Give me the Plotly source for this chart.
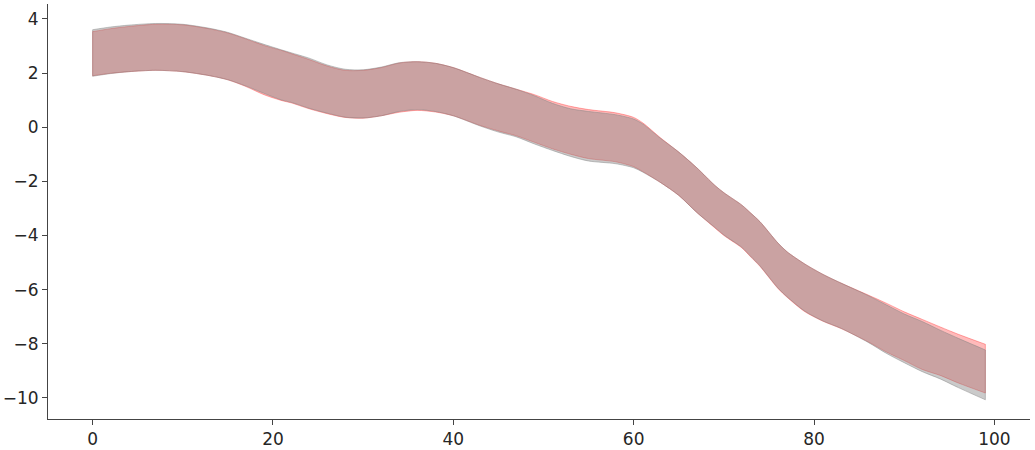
import plotly.graph_objects as go

x = [0, 2, 4, 7, 10, 13, 15, 17, 19, 21, 22, 24, 26, 28, 30, 32, 34, 36, 38, 40,
     43, 45, 47, 49, 51, 53, 55, 58, 60, 61, 63, 65, 67, 69, 70, 72, 73, 74, 76, 77,
     79, 81, 83, 86, 88, 90, 92, 94, 96, 99]

gray_upper = [3.60, 3.70, 3.77, 3.83, 3.80, 3.65, 3.50, 3.28, 3.06, 2.85, 2.75, 2.55, 2.30, 2.14, 2.12, 2.22, 2.38, 2.42, 2.36, 2.20,
              1.83, 1.60, 1.40, 1.16, 0.88, 0.68, 0.58, 0.46, 0.30, 0.12, -0.42, -0.92, -1.50, -2.15, -2.42, -2.88, -3.18, -3.49, -4.28, -4.60,
              -5.06, -5.44, -5.76, -6.22, -6.56, -6.90, -7.18, -7.50, -7.80, -8.23]
gray_lower = [1.88, 1.98, 2.05, 2.10, 2.05, 1.90, 1.75, 1.52, 1.25, 1.00, 0.92, 0.70, 0.52, 0.37, 0.34, 0.42, 0.58, 0.65, 0.58, 0.42,
              0.04, -0.18, -0.36, -0.62, -0.86, -1.08, -1.25, -1.35, -1.50, -1.66, -2.05, -2.52, -3.15, -3.70, -3.98, -4.44, -4.78, -5.12, -5.94, -6.26,
              -6.80, -7.16, -7.43, -7.95, -8.35, -8.70, -9.03, -9.30, -9.62, -10.07]
red_upper = [3.53, 3.64, 3.72, 3.80, 3.78, 3.63, 3.48, 3.26, 3.02, 2.83, 2.72, 2.50, 2.26, 2.10, 2.10, 2.20, 2.37, 2.42, 2.36, 2.20,
             1.83, 1.60, 1.40, 1.20, 0.95, 0.77, 0.65, 0.53, 0.36, 0.16, -0.40, -0.92, -1.50, -2.15, -2.42, -2.88, -3.18, -3.49, -4.28, -4.60,
             -5.06, -5.44, -5.76, -6.20, -6.50, -6.82, -7.10, -7.38, -7.65, -8.02]
red_lower = [1.90, 1.99, 2.05, 2.10, 2.05, 1.90, 1.75, 1.50, 1.20, 0.98, 0.90, 0.68, 0.50, 0.36, 0.33, 0.42, 0.55, 0.62, 0.56, 0.42,
             0.06, -0.14, -0.32, -0.56, -0.80, -1.00, -1.16, -1.28, -1.46, -1.64, -2.05, -2.52, -3.15, -3.72, -4.00, -4.46, -4.80, -5.14, -5.96, -6.28,
             -6.82, -7.17, -7.44, -7.93, -8.30, -8.62, -8.95, -9.17, -9.45, -9.82]

x_ticks = [0, 20, 40, 60, 80, 100]
y_ticks = [-10, -8, -6, -4, -2, 0, 2, 4]

fig = go.Figure()

def band(upper, lower, fill, edge, name):
    common = dict(mode="lines", showlegend=False, hoverinfo="skip", name=name)
    line = dict(color=edge, width=1, shape="spline", smoothing=0.8)
    fig.add_trace(go.Scatter(x=x, y=lower, line=line, **common))
    fig.add_trace(go.Scatter(x=x, y=upper, line=line, fill="tonexty", fillcolor=fill, **common))
    for i in (0, -1):
        fig.add_trace(go.Scatter(x=[x[i], x[i]], y=[lower[i], upper[i]],
                                 line=dict(color=edge, width=1), **common))

band(red_upper, red_lower, "rgba(255,0,0,0.27)", "rgba(255,0,0,0.30)", "red")
band(gray_upper, gray_lower, "rgba(128,128,128,0.42)", "rgba(128,128,128,0.45)", "gray")

axis_common = dict(
    showgrid=False, zeroline=False, showline=True, linecolor="#444444", linewidth=1,
    ticks="outside", ticklen=5, tickwidth=1, tickcolor="#444444", automargin=False,
    tickfont=dict(family="DejaVu Sans", size=17, color="#262626"),
)

fig.update_layout(
    width=1035, height=450,
    margin=dict(l=48, r=5, t=4, b=31),
    plot_bgcolor="white", paper_bgcolor="white",
    xaxis=dict(range=[-4.95, 103.95], tickvals=x_ticks, **axis_common),
    yaxis=dict(range=[-10.78, 4.55], tickvals=y_ticks, **axis_common),
)

fig.write_html("out.html", config={"displayModeBar": False},
               post_script="document.body.style.margin='0';document.body.style.overflow='hidden';")
